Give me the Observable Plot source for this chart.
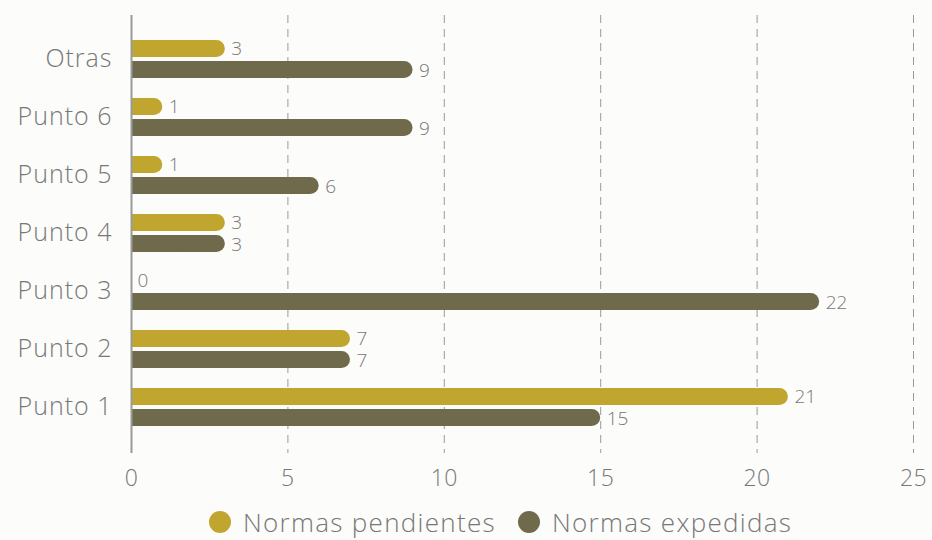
<!DOCTYPE html>
<html>
<head>
<meta charset="utf-8">
<script src="https://cdn.jsdelivr.net/npm/d3@7"></script>
<script src="https://cdn.jsdelivr.net/npm/@observablehq/plot@0.6"></script>
<style>
  html, body { margin: 0; padding: 0; background: #fcfcfb; }
  body { position: relative; width: 932px; height: 540px; overflow: hidden; font-family: "Open Sans", Lato, sans-serif; font-weight: 300; }
  #chart svg { display: block; background: transparent; }
  g[aria-label="y-axis tick label"] text { font-size: 25px; letter-spacing: 1px; }
  g[aria-label="x-axis tick label"] text { font-size: 23px; letter-spacing: 0.5px; }
  .legend { position: absolute; left: 0; top: 505px; display: flex; align-items: center; height: 34px; line-height: 34px; padding-left: 209px; color: #777; font-size: 26px; font-weight: 300; letter-spacing: 1.3px; }
  .legend .item { display: flex; align-items: center; margin-right: 22px; }
  .legend .dot { width: 22px; height: 22px; border-radius: 50%; margin-right: 12px; }
</style>
</head>
<body>
<div id="chart"></div>
<div class="legend">
  <div class="item"><span class="dot" style="background:#c0a62f"></span><span>Normas pendientes</span></div>
  <div class="item"><span class="dot" style="background:#6e6a4b"></span><span>Normas expedidas</span></div>
</div>
<script>
const categories = ["Otras", "Punto 6", "Punto 5", "Punto 4", "Punto 3", "Punto 2", "Punto 1"];
const pendientes = [3, 1, 1, 3, 0, 7, 21];
const expedidas = [9, 9, 6, 3, 22, 7, 15];
const xTicks = [0, 5, 10, 15, 20, 25];
const gridTicks = [5, 10, 15, 20, 25];

const colPend = "#c0a62f";
const colExp = "#6e6a4b";
const textCol = "#777";

const data = categories.map((c, i) => ({cat: c, pend: pendientes[i], exp: expedidas[i]}));
const halfBar = 8.5;

const chart = Plot.plot({
  width: 932,
  height: 500,
  marginLeft: 131,
  marginRight: 19,
  marginTop: 15,
  marginBottom: 47,
  style: {background: "transparent", fontFamily: "'Open Sans', Lato, sans-serif", fontWeight: 300, color: textCol},
  x: {domain: [0, 25], ticks: xTicks, label: null},
  y: {domain: categories, paddingInner: 0.35, paddingOuter: 0.4186, align: 0.48, label: null},
  marks: [
    Plot.ruleX(gridTicks, {stroke: "#999", strokeDasharray: "8,6", strokeWidth: 1}),
    Plot.axisX({ticks: xTicks, tickSize: 0, tickPadding: 16, fill: textCol, label: null}),
    Plot.axisY({tickSize: 0, tickPadding: 19, fill: textCol, label: null, dy: -1}),
    // pendientes
    Plot.barX(data, {x1: 0, x2: "pend", y: "cat", fill: colPend, insetBottom: 21, rx: halfBar}),
    Plot.barX(data.filter(d => d.pend > 0), {x1: 0, x2: d => d.pend / 2, y: "cat", fill: colPend, insetBottom: 21}),
    // expedidas
    Plot.barX(data, {x1: 0, x2: "exp", y: "cat", fill: colExp, insetTop: 21, rx: halfBar}),
    Plot.barX(data.filter(d => d.exp > 0), {x1: 0, x2: d => d.exp / 2, y: "cat", fill: colExp, insetTop: 21}),
    Plot.ruleX([0], {stroke: "#999", strokeWidth: 2}),
    Plot.text(data, {x: "pend", y: "cat", text: d => String(d.pend), dx: 6, dy: -11, textAnchor: "start", fill: textCol, fontSize: 19}),
    Plot.text(data, {x: "exp", y: "cat", text: d => String(d.exp), dx: 6, dy: 11.5, textAnchor: "start", fill: textCol, fontSize: 19})
  ]
});
document.getElementById("chart").appendChild(chart);
</script>
</body>
</html>
